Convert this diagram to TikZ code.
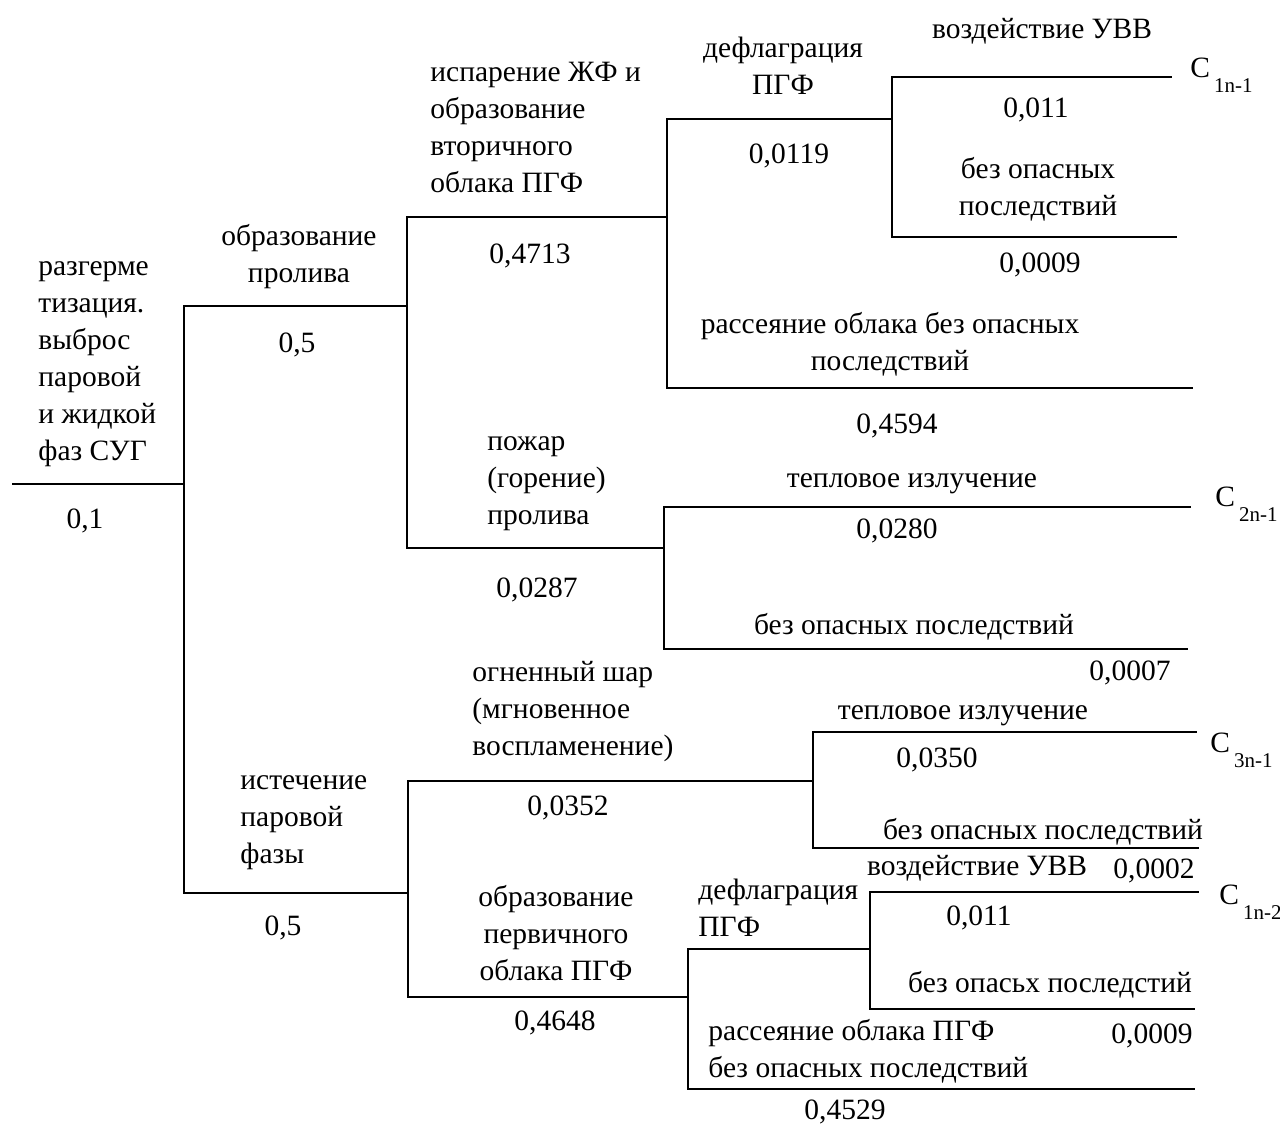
\documentclass[tikz,border=0pt]{standalone}
\usepackage{fontspec}
\setmainfont{Liberation Serif}
\newcommand\csub[1]{C\hspace{2pt}\raisebox{-7.5pt}{\fontsize{10.5}{11}\selectfont #1}}
\begin{document}
\begin{tikzpicture}[x=0.5pt,y=-0.5pt,
  br/.style={line width=1pt},
  lbl/.style={inner sep=0pt, font=\fontsize{14.75}{18.5}\selectfont},
  lc/.style={lbl, anchor=base, align=center},
  ll/.style={lbl, anchor=base west, align=left},
  cl/.style={lbl, anchor=base west}]
\useasboundingbox (0,0) rectangle (1280,1124);
% branch points / ends
\coordinate (A0) at (12,484);
\coordinate (A1) at (184,484);
\coordinate (B1) at (407,306);
\coordinate (B2) at (408,893);
\coordinate (C1) at (667,217);
\coordinate (C2) at (664,548);
\coordinate (D1) at (892,119);
\coordinate (D2) at (1193,388);
\coordinate (E1) at (1172,77);
\coordinate (E2) at (1177,237);
\coordinate (F1) at (1191,507);
\coordinate (F2) at (1188,649);
\coordinate (G1) at (813,781);
\coordinate (G2) at (688,997);
\coordinate (H1) at (1197,732);
\coordinate (H2) at (1199,848);
\coordinate (I1) at (870,949);
\coordinate (I2) at (1195,1089);
\coordinate (J1) at (1199,892);
\coordinate (J2) at (1195,1009);
% connectors
\draw[br] (A0) -- (A1);
\draw[br] (A1) |- (B1);
\draw[br] (A1) |- (B2);
\draw[br] (B1) |- (C1);
\draw[br] (B1) |- (C2);
\draw[br] (C1) |- (D1);
\draw[br] (C1) |- (D2);
\draw[br] (D1) |- (E1);
\draw[br] (D1) |- (E2);
\draw[br] (C2) |- (F1);
\draw[br] (C2) |- (F2);
\draw[br] (B2) |- (G1);
\draw[br] (B2) |- (G2);
\draw[br] (G1) |- (H1);
\draw[br] (G1) |- (H2);
\draw[br] (G2) |- (I1);
\draw[br] (G2) |- (I2);
\draw[br] (I1) |- (J1);
\draw[br] (I1) |- (J2);
% labels (multi-line nodes: y = baseline of last line)
\node[ll] (tA) at (38,460) {разгерме\\тизация.\\выброс\\паровой\\и жидкой\\фаз СУГ};
\node[lc] (pA) at (85,528) {0,1};
\node[lc] (tB1) at (299,282) {образование\\пролива};
\node[lc] (pB1) at (297,352) {0,5};
\node[ll] (tC1) at (430,192) {испарение ЖФ и\\образование\\вторичного\\облака ПГФ};
\node[lc] (pC1) at (530,263) {0,4713};
\node[lc] (tD1) at (783,94) {дефлаграция\\ПГФ};
\node[lc] (pD1) at (789,163) {0,0119};
\node[lc] (tE1) at (1042,39) {воздействие УВВ};
\node[lc] (pE1) at (1036,117) {0,011};
\node[lc] (tE2) at (1038,215) {без опасных\\последствий};
\node[lc] (pE2) at (1040,272) {0,0009};
\node[cl] (cE1) at (1190,77) {\csub{1n-1}};
\node[lc] (tD2) at (890,370) {рассеяние облака без опасных\\последствий};
\node[lc] (pD2) at (897,433) {0,4594};
\node[ll] (tC2) at (487,524) {пожар\\(горение)\\пролива};
\node[lc] (pC2) at (537,597) {0,0287};
\node[lc] (tF1) at (912,487) {тепловое излучение};
\node[lc] (pF1) at (897,538) {0,0280};
\node[cl] (cF1) at (1215,506) {\csub{2n-1}};
\node[lc] (tF2) at (914,634) {без опасных последствий};
\node[lc] (pF2) at (1130,680) {0,0007};
\node[ll] (tB2) at (240,863) {истечение\\паровой\\фазы};
\node[lc] (pB2) at (283,935) {0,5};
\node[ll] (tG1) at (472,755) {огненный шар\\(мгновенное\\воспламенение)};
\node[lc] (pG1) at (568,815) {0,0352};
\node[lc] (tH1) at (963,719) {тепловое излучение};
\node[lc] (pH1) at (937,767) {0,0350};
\node[cl] (cH1) at (1210,752) {\csub{3n-1}};
\node[lc] (tH2) at (1043,839) {без опасных последствий};
\node[lc] (tJ1) at (977,875) {воздействие УВВ};
\node[lc] (pH2) at (1154,878) {0,0002};
\node[lc] (tG2) at (556,980) {образование\\первичного\\облака ПГФ};
\node[lc] (pG2) at (555,1030) {0,4648};
\node[ll] (tI1) at (698,936) {дефлаграция\\ПГФ};
\node[lc] (pJ1) at (979,925) {0,011};
\node[cl] (cJ1) at (1219,904) {\csub{1n-2}};
\node[lc] (tJ2) at (1050,992) {без опасьх последстий};
\node[lc] (pJ2) at (1152,1043) {0,0009};
\node[ll] (tI2) at (708,1077) {рассеяние облака ПГФ\\без опасных последствий};
\node[lc] (pI2) at (845,1119) {0,4529};
\end{tikzpicture}
\end{document}
